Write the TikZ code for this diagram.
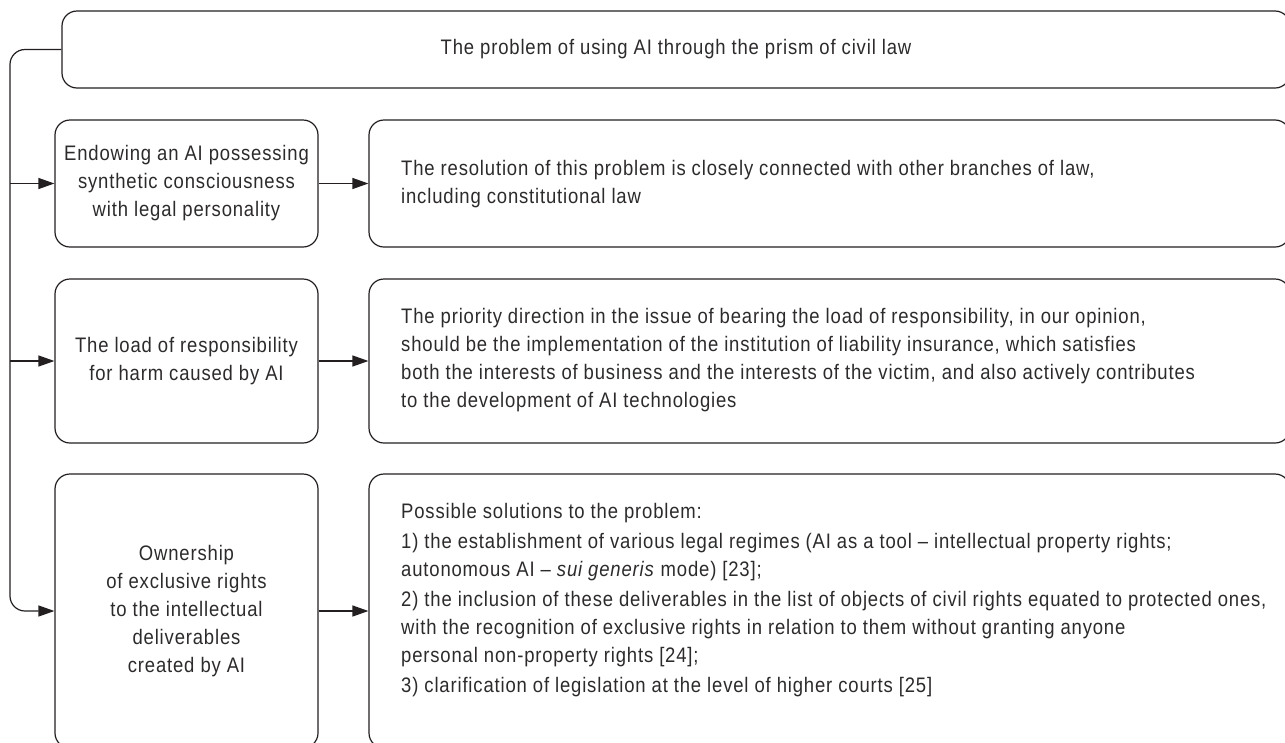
\documentclass[tikz,border=0pt]{standalone}
\usepackage{fontspec}
\setmainfont{Liberation Sans}[FakeStretch=0.88,LetterSpace=4]
\usetikzlibrary{arrows.meta}
\definecolor{ink}{RGB}{35,31,32}
\definecolor{textink}{RGB}{45,42,43}
\begin{document}
\begin{tikzpicture}[x=1pt,y=-1pt,
  box/.style={draw=ink, line width=1.2pt, rounded corners=15pt, inner sep=0pt},
  txt/.style={font=\fontsize{21}{28}\selectfont, text=textink},
  lbox/.style={box, txt, align=center, minimum width=263pt},
  rbox/.style={box, minimum width=921pt},
  rtext/.style={txt, align=left, inner sep=0pt, anchor=north west},
  conn/.style={draw=ink, line width=1.2pt},
  arr/.style={conn, -{Triangle[length=16pt,width=11pt]}}]
\useasboundingbox (0,0) rectangle (1285,742);
\clip (0,0) rectangle (1285,742);

% title
\node[box, txt, minimum width=1228pt, minimum height=77pt] (title) at (676,49.5)
  {The problem of using AI through the prism of civil law};

% left column
\node[lbox, minimum height=127pt] (l1) at (186.5,183.5)
  {Endowing an AI possessing\\synthetic consciousness\\with legal personality};
\node[lbox, minimum height=164pt] (l2) at (186.5,361)
  {The load of responsibility\\for harm caused by AI};
\node[lbox, minimum height=274pt] (l3) at (186.5,611)
  {Ownership\\of exclusive rights\\to the intellectual\\deliverables\\created by AI};

% right column
\node[rbox, minimum height=127pt] (r1) at (829.5,183.5) {};
\node[rbox, minimum height=164pt] (r2) at (829.5,361) {};
\node[rbox, minimum height=274pt] (r3) at (829.5,611) {};

\node[rtext] (t1) at (401,160)
  {The resolution of this problem is closely connected with other branches of law,\\
   including constitutional law};
\node[rtext] (t2) at (401,308)
  {The priority direction in the issue of bearing the load of responsibility, in our opinion,\\
   should be the implementation of the institution of liability insurance, which satisfies\\
   both the interests of business and the interests of the victim, and also actively contributes\\
   to the development of AI technologies};
\node[rtext] (t3) at (401,503)
  {Possible solutions to the problem:\\[2pt]
   1) the establishment of various legal regimes (AI as a tool – intellectual property rights;\\
   autonomous AI – \textit{sui generis} mode) [23];\\[2pt]
   2) the inclusion of these deliverables in the list of objects of civil rights equated to protected ones,\\
   with the recognition of exclusive rights in relation to them without granting anyone\\
   personal non-property rights [24];\\[2pt]
   3) clarification of legislation at the level of higher courts [25]};

% connectors
\coordinate (ctop) at (10,49.5);
\coordinate (cbot) at (10,611);
\draw[arr, rounded corners=15pt] (title.west) -- (ctop) -- (cbot) -- (l3.west);
\draw[arr] (l1.west -| ctop) -- (l1.west);
\draw[arr] (l2.west -| ctop) -- (l2.west);
\draw[arr] (l1.east) -- (r1.west);
\draw[arr] (l2.east) -- (r2.west);
\draw[arr] (l3.east) -- (r3.west);
\end{tikzpicture}
\end{document}
